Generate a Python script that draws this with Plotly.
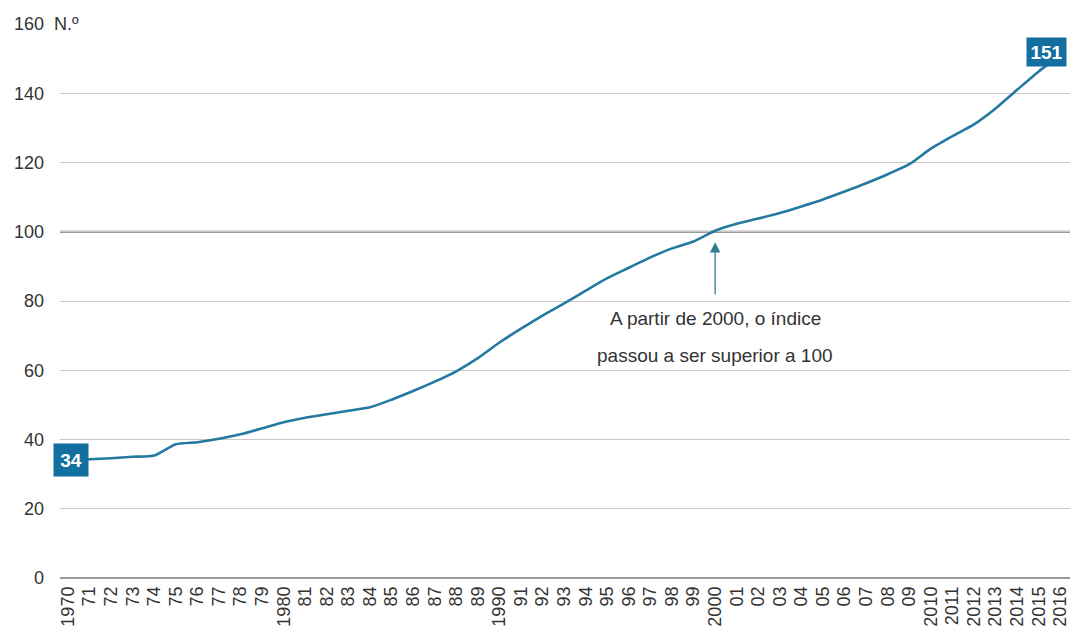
import plotly.graph_objects as go

# Índice anual, 1970–2016 (base 2000 ≈ 100)
years = list(range(1970, 2017))
index_values = [
    34.0, 34.3, 34.6, 35.0, 35.4, 38.6, 39.2, 40.2, 41.5, 43.2,   # 1970-79
    45.0, 46.3, 47.3, 48.3, 49.3, 51.5, 54.0, 56.7, 59.7, 63.5,   # 1980-89
    68.0, 72.0, 75.8, 79.3, 83.0, 86.6, 89.6, 92.6, 95.2, 97.2,   # 1990-99
    100.3, 102.3, 103.8, 105.4, 107.3, 109.3, 111.6, 114.0, 116.6, 119.5,  # 2000-09
    124.0, 127.6, 131.0, 135.6, 141.0, 146.3, 151.0,              # 2010-16
]
x_tick_labels = (
    ["1970"] + [f"{y % 100:02d}" for y in range(1971, 1980)]
    + ["1980"] + [f"{y % 100:02d}" for y in range(1981, 1990)]
    + ["1990"] + [f"{y % 100:02d}" for y in range(1991, 2000)]
    + ["2000"] + [f"{y % 100:02d}" for y in range(2001, 2010)]
    + [str(y) for y in range(2010, 2017)]
)
y_ticks = list(range(0, 161, 20))

LINE = "#2479a1"
BOX = "#126fa0"
TXT = "#333333"
FONT = "Liberation Sans, Arial, sans-serif"

fig = go.Figure()
fig.add_trace(go.Scatter(
    x=years, y=index_values, mode="lines",
    line=dict(color=LINE, width=2.6, shape="spline", smoothing=0.6),
    hoverinfo="skip", showlegend=False,
))

# reference line at 100
fig.add_shape(type="line", xref="paper", x0=0, x1=1, yref="y", y0=100, y1=100,
              line=dict(color="#7a7a7a", width=2), layer="below")

annotations = [
    # unit label next to the top tick
    dict(text="N.º", xref="paper", yref="y", x=0, y=160, xanchor="left",
         yanchor="middle", xshift=-8, showarrow=False, width=46, align="left",
         bgcolor="white", font=dict(size=18, color=TXT, family=FONT)),
    # first and last values
    dict(text="<b>34</b>", x=years[0], y=index_values[0], xshift=3, showarrow=False,
         bgcolor=BOX, width=26, height=24, borderpad=4,
         font=dict(size=19, color="white", family=FONT)),
    dict(text="<b>151</b>", x=years[-1], y=index_values[-1], xanchor="right",
         xshift=7, yshift=3, showarrow=False, bgcolor=BOX, width=33, height=22,
         borderpad=3, font=dict(size=19, color="white", family=FONT)),
    # arrow to the crossing of 100
    dict(text="", x=2000, y=97.0, ax=2000, ay=81.5, axref="x", ayref="y",
         showarrow=True, arrowhead=2, arrowsize=1.6, arrowwidth=1.3,
         arrowcolor="#2f7f94"),
    dict(text="A partir de 2000, o índice", x=2000, y=75.0, showarrow=False,
         font=dict(size=19, color=TXT, family=FONT)),
    dict(text="passou a ser superior a 100", x=2000, y=64.3, showarrow=False,
         font=dict(size=19, color=TXT, family=FONT)),
]

fig.update_layout(
    width=1070, height=636,
    margin=dict(l=60, r=0, t=24, b=58, autoexpand=False),
    paper_bgcolor="white", plot_bgcolor="white",
    font=dict(family=FONT, color=TXT),
    annotations=annotations,
    xaxis=dict(
        range=[1969.63, 2016.45], tickmode="array", tickvals=years,
        ticktext=x_tick_labels, tickangle=-90, showgrid=False, zeroline=False,
        showline=False, ticks="", tickfont=dict(size=18, color=TXT),
        ticklabelstandoff=4, ticklabeloverflow="allow",
        automargin=False, fixedrange=True,
    ),
    yaxis=dict(
        range=[0, 160], tickmode="array", tickvals=y_ticks,
        showgrid=True, gridcolor="#c8c8c8", gridwidth=1,
        zeroline=True, zerolinecolor="#999999", zerolinewidth=2,
        showline=False, ticks="", ticklabelstandoff=15,
        tickfont=dict(size=18, color=TXT), automargin=False, fixedrange=True,
    ),
)

fig.write_html("out.html")
